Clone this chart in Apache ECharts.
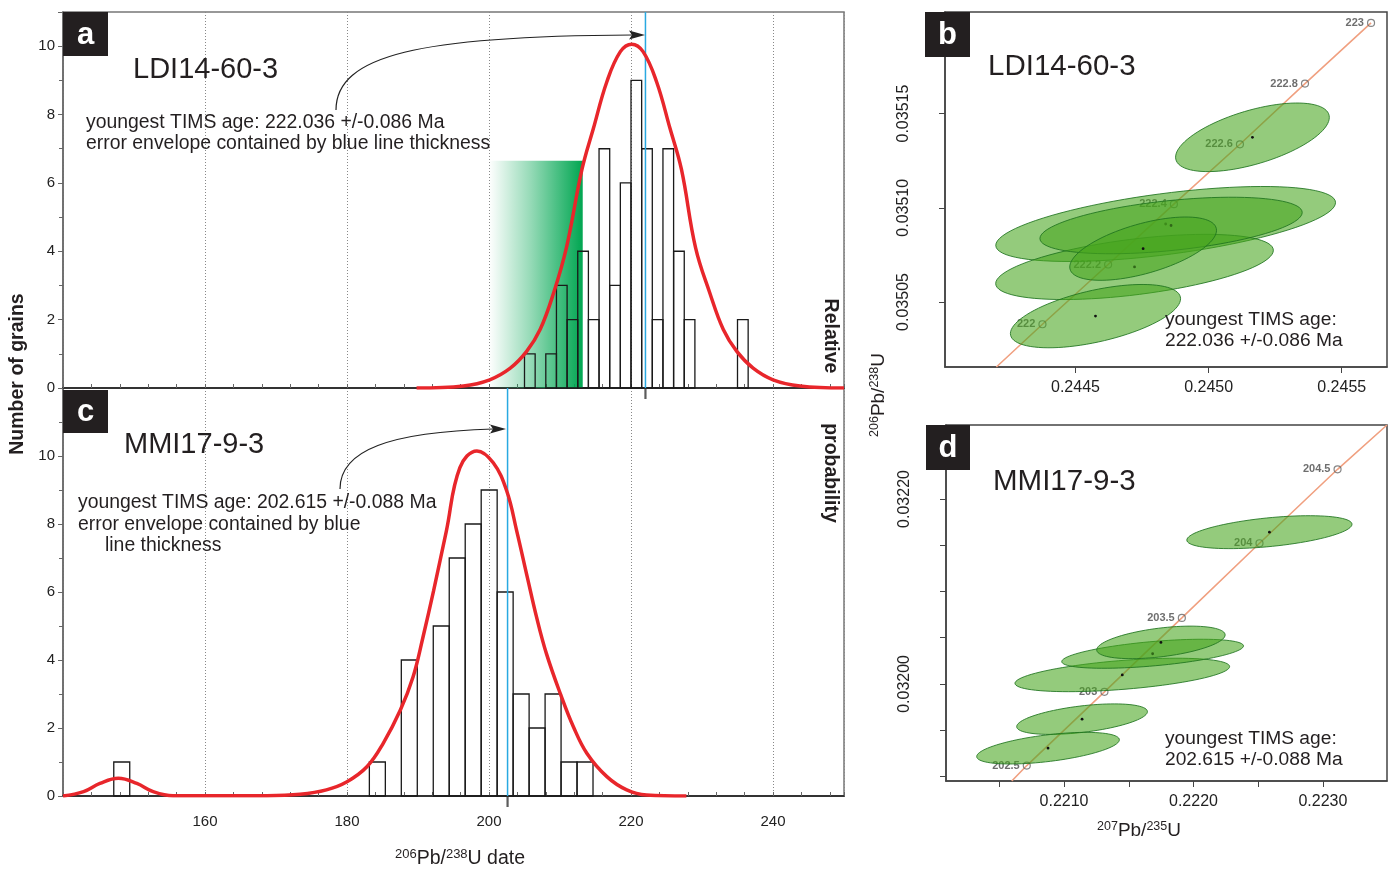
<!DOCTYPE html>
<html>
<head>
<meta charset="utf-8">
<script src="https://cdn.jsdelivr.net/npm/echarts@6/dist/echarts.min.js"></script>
<style>
  html, body { margin: 0; padding: 0; background: #fff; }
  #chart { width: 1389px; height: 869px; }
</style>
</head>
<body>
<div id="chart"></div>
<script>
// ---- data ----
// histogram a: [left edge of bin (Ma), number of grains], bins 1.5 Ma wide
let binsA = [[205, 1], [208, 1], [209.5, 3], [211, 2], [212.5, 4], [214, 2], [215.5, 7], [217, 3],
  [218.5, 6], [220, 9], [221.5, 7], [223, 2], [224.5, 7], [226, 4], [227.5, 2], [235, 2]];
let binWidthA = 1.5;
// histogram c: bins 2.25 Ma wide
let binsC = [[147.15, 1], [183.15, 1], [187.65, 4], [192.15, 5], [194.4, 7], [196.65, 8], [198.9, 9],
  [201.15, 6], [203.4, 3], [205.65, 2], [207.9, 3], [210.15, 1], [212.4, 1]];
let binWidthC = 2.25;

// relative probability curves, in grain-count units
let curveA = [[189.8, 0], [196.4, 0.06], [200.1, 0.24], [203.0, 0.58], [205.3, 1.07], [207.2, 1.71],
  [209.1, 2.78], [210.9, 4.1], [213.1, 6.4], [214.7, 7.59], [216.6, 8.96], [218.5, 9.84], [220.1, 10.06],
  [221.7, 9.84], [223.6, 8.96], [225.5, 7.59], [227.1, 6.4], [229.1, 4.1], [231.1, 2.78], [233.0, 1.71],
  [234.9, 1.07], [237.2, 0.58], [240.0, 0.24], [243.8, 0.06], [250, 0]];
let curveC = [[140.0, 0], [142.9, 0.13], [145.2, 0.37], [147.8, 0.52], [150.4, 0.37], [152.7, 0.13],
  [155.5, 0.01], [168.7, 0.01], [173.4, 0.05], [177.1, 0.18], [180.0, 0.42], [182.8, 0.86], [185.1, 1.55],
  [187.5, 2.52], [189.3, 3.5], [190.7, 4.67], [192.2, 6.04], [194.0, 7.8], [195.9, 9.66], [198.3, 10.15],
  [200.6, 9.8], [202.5, 8.97], [203.9, 7.8], [205.4, 6.43], [206.7, 5.26], [208.1, 4.18], [210.1, 2.98],
  [211.9, 2.03], [213.8, 1.25], [216.6, 0.57], [219.4, 0.18], [222.2, 0.03], [227.8, 0]];

// youngest TIMS ages (Ma)
let timsA = 222.036;
let timsC = 202.615;
// green band in a: [from age, height, to age]
let bandA = [[200, 6.65, 213.2]];

// concordia ellipses: [x 207Pb/235U, y 206Pb/238U, half width x, half height y, error correlation]
let ellipsesB = [
  [0.2448387, 0.0350914, 0.000638, 0.0000199, 0.57],
  [0.2447218, 0.0350686, 0.0005214, 0.0000173, 0.51],
  [0.2448590, 0.0350906, 0.0004925, 0.0000150, 0.46],
  [0.2447541, 0.0350783, 0.0002756, 0.0000168, 0.58],
  [0.2445752, 0.0350425, 0.0003195, 0.0000168, 0.55],
  [0.2451647, 0.0351374, 0.0002887, 0.0000182, 0.58]
];
let ellipsesD = [
  [0.2225866, 0.0321641, 0.000638, 0.0000178, 0.48],
  [0.2214500, 0.0320097, 0.000829, 0.0000181, 0.50],
  [0.2216843, 0.0320326, 0.000702, 0.0000157, 0.54],
  [0.2217485, 0.0320449, 0.000496, 0.0000176, 0.46],
  [0.2211392, 0.0319619, 0.000505, 0.0000165, 0.49],
  [0.2208763, 0.0319305, 0.000551, 0.0000171, 0.53]
];
// concordia age marks: [label, x, y]
let concB = [['222', 0.244376, 0.0350382], ['222.2', 0.2446226, 0.0350699], ['222.4', 0.2448696, 0.0351019],
  ['222.6', 0.2451177, 0.0351337], ['222.8', 0.2453620, 0.0351659], ['223', 0.2456101, 0.0351981]];
let concD = [['202.5', 0.220712, 0.0319117], ['203', 0.221312, 0.0319914], ['203.5', 0.221910, 0.0320714],
  ['204', 0.222510, 0.0321521], ['204.5', 0.223113, 0.0322321]];
let concEndsB = [[0.244203, 0.0350155], [0.2456101, 0.0351981]];
let concEndsD = [[0.220596, 0.031895], [0.223495, 0.03228]];

// tick labels
let ticksBx = [0.2445, 0.2450, 0.2455];
let ticksBy = [0.03505, 0.03510, 0.03515];
let ticksDx = [0.2205, 0.2210, 0.2215, 0.2220, 0.2225, 0.2230];
let labelsDx = [0.2210, 0.2220, 0.2230];
let ticksDy = [0.03190, 0.03195, 0.03200, 0.03205, 0.03210, 0.03215, 0.03220];
let labelsDy = [0.03200, 0.03220];

const FONT = '"Liberation Sans", Arial, Helvetica, sans-serif';
let chart = echarts.init(document.getElementById('chart'));

function histSeries(bins, width, idx) {
  return {
    type: 'custom', xAxisIndex: idx, yAxisIndex: idx, z: 3, silent: true,
    renderItem: function (params, api) {
      let x0 = api.value(0), h = api.value(1);
      let p0 = api.coord([x0, h]);
      let p1 = api.coord([x0 + width, 0]);
      return {
        type: 'rect',
        shape: { x: p0[0], y: p0[1], width: p1[0] - p0[0], height: p1[1] - p0[1] },
        style: { fill: 'none', stroke: '#1a1a1a', lineWidth: 1.3 }
      };
    },
    data: bins
  };
}

function ellipseSeries(list, idx) {
  return {
    type: 'custom', xAxisIndex: idx, yAxisIndex: idx, z: 4, silent: true,
    renderItem: function (params, api) {
      let cx = api.value(0), cy = api.value(1), sx = api.value(2), sy = api.value(3), r = api.value(4);
      let pts = [];
      for (let i = 0; i < 90; i++) {
        let t = i / 90 * 2 * Math.PI;
        pts.push(api.coord([cx + sx * Math.cos(t),
          cy + sy * (r * Math.cos(t) + Math.sqrt(1 - r * r) * Math.sin(t))]));
      }
      let c = api.coord([cx, cy]);
      return {
        type: 'group',
        children: [
          { type: 'polygon', shape: { points: pts },
            style: { fill: 'rgba(70,165,30,0.58)', stroke: 'rgba(30,115,30,0.85)', lineWidth: 1 } },
          { type: 'circle', shape: { cx: c[0], cy: c[1], r: 1.4 }, style: { fill: '#111' } }
        ]
      };
    },
    data: list
  };
}

function concSeries(marks, ends, idx) {
  let pts = [ends[0]].concat(marks.map(m => [m[1], m[2]])).concat([ends[1]]);
  return [
    { type: 'line', xAxisIndex: idx, yAxisIndex: idx, z: 1, silent: true, symbol: 'none',
      lineStyle: { color: '#f0a080', width: 1.6 }, data: pts },
    { type: 'scatter', xAxisIndex: idx, yAxisIndex: idx, z: 2, silent: true,
      symbol: 'circle', symbolSize: 7,
      itemStyle: { color: 'rgba(255,255,255,0)', borderColor: '#666', borderWidth: 1.2 },
      label: { show: true, position: 'left', distance: 3, formatter: '{b}', textBorderWidth: 0,
        fontFamily: FONT, fontSize: 11, fontWeight: 'bold', color: '#4a4a4a' },
      data: marks.map(m => ({ name: m[0], value: [m[1], m[2]] })) }
  ];
}

function leftX(idx, showLabels) {
  return {
    type: 'value', gridIndex: idx, min: 140, max: 250, interval: 20,
    axisLine: { show: true, onZero: false, lineStyle: { color: '#333', width: 2 } },
    axisTick: { show: true, inside: true, length: 4, lineStyle: { color: '#666' } },
    minorTick: { show: true, splitNumber: 5, length: 4, lineStyle: { color: '#666' } },
    splitLine: { show: true, lineStyle: { color: '#888', type: [1, 2], width: 1 } },
    axisLabel: { show: showLabels, margin: 18, fontFamily: FONT, fontSize: 15, color: '#222',
      showMinLabel: false, showMaxLabel: false }
  };
}
function leftY(idx, max) {
  return {
    type: 'value', gridIndex: idx, min: 0, max: max, interval: 2,
    axisLine: { show: true, lineStyle: { color: '#666', width: 1.5 } },
    axisTick: { show: true, length: 5, lineStyle: { color: '#666' } },
    minorTick: { show: true, splitNumber: 2, length: 4, lineStyle: { color: '#666' } },
    splitLine: { show: false },
    axisLabel: { margin: 8, fontFamily: FONT, fontSize: 15, color: '#222', showMaxLabel: false }
  };
}
function rightX(idx, min, max, ticks, labels) {
  return {
    type: 'value', gridIndex: idx, min: min, max: max,
    axisLine: { show: true, onZero: false, lineStyle: { color: '#444', width: 1.5 } },
    axisTick: { show: true, length: 6, customValues: ticks, lineStyle: { color: '#444' } },
    splitLine: { show: false },
    axisLabel: { margin: 13, customValues: labels, formatter: v => v.toFixed(4),
      fontFamily: FONT, fontSize: 16, color: '#222' }
  };
}
function rightY(idx, min, max, ticks, labels) {
  return {
    type: 'value', gridIndex: idx, min: min, max: max,
    axisLine: { show: true, onZero: false, lineStyle: { color: '#444', width: 1.5 } },
    axisTick: { show: true, length: 6, customValues: ticks, lineStyle: { color: '#444' } },
    splitLine: { show: false },
    axisLabel: { margin: 33, rotate: 90, customValues: labels, formatter: v => v.toFixed(5),
      fontFamily: FONT, fontSize: 16, color: '#222' }
  };
}

function panelBox(x, y, w, h, letter) {
  return [
    { type: 'rect', z: 100, shape: { x: x, y: y, width: w, height: h }, style: { fill: '#231f20' } },
    { type: 'text', z: 101, x: x + w / 2, y: y + h / 2 + 1,
      style: { text: letter, fill: '#fff', font: 'bold 31px ' + FONT, align: 'center', verticalAlign: 'middle' } }
  ];
}
function txt(x, y, s, size, extra) {
  return Object.assign({ type: 'text', z: 100, x: x, y: y,
    style: { text: s, fill: '#231f20', font: size + 'px ' + FONT, verticalAlign: 'middle' } }, extra || {});
}
function arrow(p0, p1, p2, p3, tip) {
  return [
    { type: 'bezierCurve', z: 100, shape: { x1: p0[0], y1: p0[1], cpx1: p1[0], cpy1: p1[1],
      cpx2: p2[0], cpy2: p2[1], x2: p3[0], y2: p3[1] }, style: { stroke: '#222', lineWidth: 1.2, fill: 'none' } },
    { type: 'polygon', z: 100, shape: { points: [[tip[0], tip[1]], [tip[0] - 16, tip[1] - 4.5], [tip[0] - 13, tip[1]], [tip[0] - 16, tip[1] + 4.5]] },
      style: { fill: '#222' } }
  ];
}

let supRich = {
  s: { fontFamily: FONT, fontSize: 13, lineHeight: 15, verticalAlign: 'top', fill: '#231f20' },
  n: { fontFamily: FONT, fontSize: 19.5, lineHeight: 23, fill: '#231f20' },
  s2: { fontFamily: FONT, fontSize: 12.5, lineHeight: 14, verticalAlign: 'top', fill: '#231f20' },
  n2: { fontFamily: FONT, fontSize: 19, lineHeight: 22, fill: '#231f20' }
};

let graphics = [].concat(
  panelBox(63, 12, 45, 44, 'a'),
  panelBox(63, 390, 45, 43, 'c'),
  panelBox(925, 12, 45, 45, 'b'),
  panelBox(926, 425, 44, 45, 'd'),
  [
    txt(133, 70, 'LDI14-60-3', 29),
    txt(86, 123, 'youngest TIMS age: 222.036 +/-0.086 Ma', 19.4),
    txt(86, 144, 'error envelope contained by blue line thickness', 19.4),
    txt(124, 445, 'MMI17-9-3', 29),
    txt(78, 503, 'youngest TIMS age: 202.615 +/-0.088 Ma', 19.4),
    txt(78, 525, 'error envelope contained by blue', 19.4),
    txt(105, 546, 'line thickness', 19.4),
    txt(988, 67, 'LDI14-60-3', 29.5),
    txt(993, 482, 'MMI17-9-3', 29.5),
    txt(1165, 320, 'youngest TIMS age:', 19.2),
    txt(1165, 341, '222.036 +/-0.086 Ma', 19.2),
    txt(1165, 739, 'youngest TIMS age:', 19.2),
    txt(1165, 760, '202.615 +/-0.088 Ma', 19.2),
    { type: 'text', z: 100, x: 18, y: 374, rotation: Math.PI / 2,
      style: { text: 'Number of grains', fill: '#231f20', font: 'bold 19.5px ' + FONT, align: 'center', verticalAlign: 'middle' } },
    { type: 'text', z: 100, x: 830, y: 336, rotation: -Math.PI / 2,
      style: { text: 'Relative', fill: '#231f20', font: 'bold 19.5px ' + FONT, align: 'center', verticalAlign: 'middle' } },
    { type: 'text', z: 100, x: 830, y: 473, rotation: -Math.PI / 2,
      style: { text: 'probability', fill: '#231f20', font: 'bold 19.5px ' + FONT, align: 'center', verticalAlign: 'middle' } },
    { type: 'text', z: 100, x: 460, y: 859,
      style: { text: '{s|206}{n|Pb/}{s|238}{n|U date}', rich: supRich, align: 'center', verticalAlign: 'middle' } },
    { type: 'text', z: 100, x: 879, y: 395, rotation: Math.PI / 2,
      style: { text: '{s2|206}{n2|Pb/}{s2|238}{n2|U}', rich: supRich, align: 'center', verticalAlign: 'middle' } },
    { type: 'text', z: 100, x: 1139, y: 831,
      style: { text: '{s2|207}{n2|Pb/}{s2|235}{n2|U}', rich: supRich, align: 'center', verticalAlign: 'middle' } }
  ],
  arrow([336, 110], [336, 55], [420, 36], [632, 35], [645, 35]),
  arrow([340, 489], [340, 450], [390, 432], [493, 429], [506, 429])
);

let bandGradient = new echarts.graphic.LinearGradient(0, 0, 1, 0, [
  { offset: 0, color: 'rgba(0,166,81,0)' },
  { offset: 0.45, color: 'rgba(0,166,81,0.42)' },
  { offset: 1, color: 'rgba(0,166,81,1)' }
]);

let option = {
  animation: false,
  backgroundColor: '#fff',
  textStyle: { fontFamily: FONT },
  grid: [
    { left: 63, top: 12, width: 781, height: 376, show: true, borderColor: '#777', borderWidth: 1.5, containLabel: false },
    { left: 63, top: 388, width: 781, height: 408, show: true, borderColor: '#777', borderWidth: 1.5, containLabel: false },
    { left: 945, top: 12, width: 442, height: 355, show: true, borderColor: '#444', borderWidth: 1.5, containLabel: false },
    { left: 946, top: 425, width: 441, height: 356, show: true, borderColor: '#444', borderWidth: 1.5, containLabel: false }
  ],
  xAxis: [
    leftX(0, false),
    leftX(1, true),
    rightX(2, 0.24401, 0.24567, ticksBx, ticksBx),
    rightX(3, 0.220088, 0.223495, ticksDx, labelsDx)
  ],
  yAxis: [
    leftY(0, 11),
    leftY(1, 12),
    rightY(2, 0.0350155, 0.0352039, ticksBy, ticksBy),
    rightY(3, 0.031895, 0.03228, ticksDy, labelsDy)
  ],
  graphic: graphics,
  series: [
    { type: 'custom', xAxisIndex: 0, yAxisIndex: 0, z: 1, silent: true,
      renderItem: function (params, api) {
        let p0 = api.coord([api.value(0), api.value(1)]);
        let p1 = api.coord([api.value(2), 0]);
        return { type: 'rect', shape: { x: p0[0], y: p0[1], width: p1[0] - p0[0], height: p1[1] - p0[1] },
          style: { fill: bandGradient } };
      },
      data: bandA },
    histSeries(binsA, binWidthA, 0),
    { type: 'line', xAxisIndex: 0, yAxisIndex: 0, z: 4, silent: true, symbol: 'none',
      lineStyle: { color: '#29a9e1', width: 1.5 }, data: [[timsA, 0], [timsA, 11]] },
    { type: 'line', xAxisIndex: 0, yAxisIndex: 0, z: 5, silent: true, symbol: 'none', smooth: 0.4,
      lineStyle: { color: '#e8262b', width: 3.5 }, data: curveA },
    { type: 'scatter', xAxisIndex: 0, yAxisIndex: 0, z: 6, silent: true, clip: false,
      symbol: 'rect', symbolSize: [2.2, 11], symbolOffset: [0, 5.5], itemStyle: { color: '#333' },
      data: [[timsA, 0]] },

    histSeries(binsC, binWidthC, 1),
    { type: 'line', xAxisIndex: 1, yAxisIndex: 1, z: 4, silent: true, symbol: 'none',
      lineStyle: { color: '#29a9e1', width: 1.5 }, data: [[timsC, 0], [timsC, 12]] },
    { type: 'line', xAxisIndex: 1, yAxisIndex: 1, z: 5, silent: true, symbol: 'none', smooth: 0.4,
      lineStyle: { color: '#e8262b', width: 3.5 }, data: curveC },
    { type: 'scatter', xAxisIndex: 1, yAxisIndex: 1, z: 6, silent: true, clip: false,
      symbol: 'rect', symbolSize: [2.2, 11], symbolOffset: [0, 5.5], itemStyle: { color: '#333' },
      data: [[timsC, 0]] }
  ].concat(
    concSeries(concB, concEndsB, 2),
    [ellipseSeries(ellipsesB, 2)],
    concSeries(concD, concEndsD, 3),
    [ellipseSeries(ellipsesD, 3)]
  )
};

chart.setOption(option);
</script>
</body>
</html>
